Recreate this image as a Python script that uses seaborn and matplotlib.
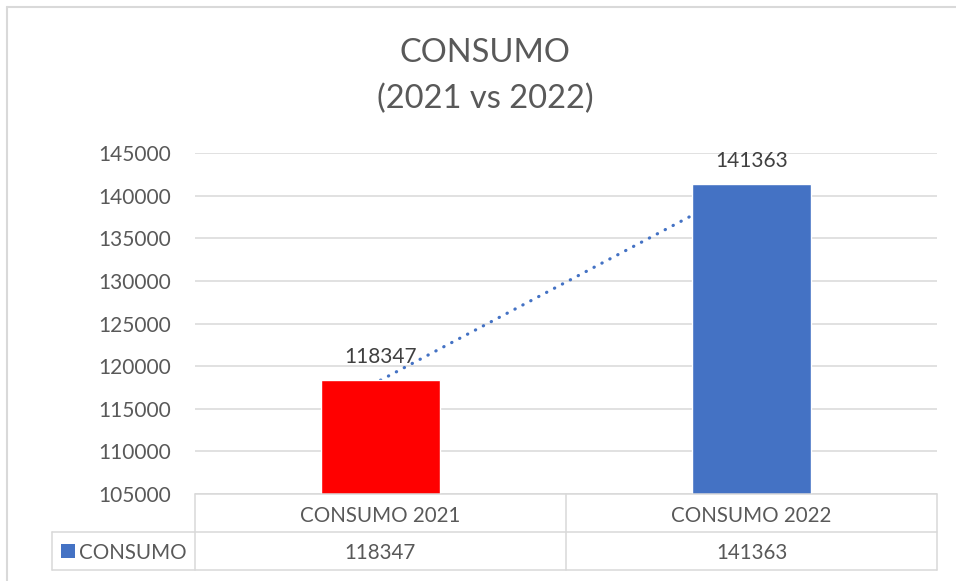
import numpy as np
import pandas as pd
import matplotlib
matplotlib.use("Agg")
import matplotlib.pyplot as plt
import matplotlib.transforms as mtransforms
from matplotlib.lines import Line2D
from matplotlib.patches import Rectangle
import seaborn as sns

# ---- data ----
categories = ["CONSUMO 2021", "CONSUMO 2022"]
values = [118347, 141363]
series_name = "CONSUMO"
bar_colors = ["#FF0000", "#4472C4"]
y_ticks = [105000, 110000, 115000, 120000, 125000, 130000, 135000, 140000, 145000]
title_lines = ["CONSUMO", "(2021 vs 2022)"]

# ---- style ----
sns.set_theme(style="white")
plt.rcParams['font.family'] = ['Lato', 'DejaVu Sans']

W, H = 956, 581
GRID = "#D9D9D9"
TXT = "#595959"

fig = plt.figure(figsize=(W / 100, H / 100), dpi=100)
fig.patch.set_facecolor("white")

# plot area in pixels: x 195..937, y 153..494
ax_l, ax_r, ax_t, ax_b = 195, 937, 153, 494
ax = fig.add_axes([ax_l / W, 1 - ax_b / H, (ax_r - ax_l) / W, (ax_b - ax_t) / H])

df = pd.DataFrame({"cat": categories, "val": values})
sns.barplot(data=df, x="cat", y="val", hue="cat", palette=bar_colors,
            width=0.32, saturation=1, legend=False, ax=ax, zorder=2)

ax.set_ylim(y_ticks[0], y_ticks[-1])
ax.set_xlim(-0.5, len(categories) - 0.5)
ax.set_yticks(y_ticks)
ax.set_yticklabels([str(t) for t in y_ticks])
ax.set_xticks([])
ax.set_xlabel("")
ax.set_ylabel("")
for s in ax.spines.values():
    s.set_visible(False)
ax.set_axisbelow(True)
ax.yaxis.grid(True, color=GRID, linewidth=1.1)
ax.tick_params(axis="y", length=0, pad=17, labelsize=15, labelcolor=TXT)

# linear trendline (dotted)
xpos = np.arange(len(values))
coef = np.polyfit(xpos, values, 1)
ax.plot(xpos, np.polyval(coef, xpos), color="#4472C4", lw=2.3,
        linestyle=(0, (0.1, 2.7)), dash_capstyle="round", zorder=1.5)

# data labels
for i, v in enumerate(values):
    ax.annotate(str(v), (i, v), xytext=(0, 12.5), textcoords="offset points",
                ha="center", va="baseline", fontsize=15, color="#404040")

# ---- data table ----
pw, ph = ax_r - ax_l, ax_b - ax_t
def ax_x(px):
    return (px - ax_l) / pw
def ax_y(py):
    return (ax_b - py) / ph

row1, row2, tleft = 532, 570, 52
lkw = dict(transform=ax.transAxes, clip_on=False, color=GRID, lw=1.1)
ax.add_line(Line2D([0, 1], [ax_y(ax_b), ax_y(ax_b)], **lkw))
ax.add_line(Line2D([ax_x(tleft), 1], [ax_y(row1), ax_y(row1)], **lkw))
ax.add_line(Line2D([ax_x(tleft), 1], [ax_y(row2), ax_y(row2)], **lkw))
ax.add_line(Line2D([ax_x(tleft), ax_x(tleft)], [ax_y(row1), ax_y(row2)], **lkw))
for xf in [0, 0.5, 1]:
    ax.add_line(Line2D([xf, xf], [ax_y(ax_b), ax_y(row2)], **lkw))

blend = mtransforms.blended_transform_factory(ax.transData, ax.transAxes)
for i, (c, v) in enumerate(zip(categories, values)):
    ax.text(i, ax_y(522), c, transform=blend, ha="center", va="baseline",
            fontsize=14.8, color=TXT, clip_on=False)
    ax.text(i, ax_y(559), str(v), transform=blend, ha="center", va="baseline",
            fontsize=14.8, color=TXT, clip_on=False)

# legend key + series name
fig.patches.append(Rectangle((61 / W, 1 - 558 / H), 14 / W, 14 / H,
                             transform=fig.transFigure, facecolor=bar_colors[1],
                             edgecolor="none"))
fig.text(79 / W, 1 - 559 / H, series_name, ha="left", va="baseline",
         fontsize=14.8, color=TXT)

# title
fig.text(485 / W, 1 - 62 / H, title_lines[0], ha="center", va="baseline",
         fontsize=23.5, color=TXT)
fig.text(485 / W, 1 - 108 / H, title_lines[1], ha="center", va="baseline",
         fontsize=23.5, color=TXT)

# chart border (cropped at right/bottom)
fig.lines.append(Line2D([7 / W, 7 / W], [1 - 7 / H, 0], transform=fig.transFigure,
                        color=GRID, lw=1.5))
fig.lines.append(Line2D([7 / W, 1], [1 - 7 / H, 1 - 7 / H], transform=fig.transFigure,
                        color=GRID, lw=1.5))

fig.savefig("out.png", dpi=100, facecolor="white")
